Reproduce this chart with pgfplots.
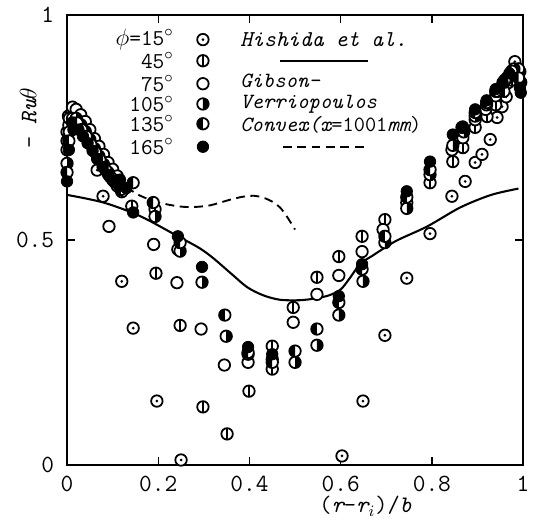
\documentclass[border=0pt]{standalone}
\usepackage{pgfplots}
\pgfplotsset{compat=1.18}

\pgfdeclareplotmark{mdot}{%
  \pgfpathcircle{\pgfpointorigin}{\pgfplotmarksize}\pgfusepathqfillstroke
  \begin{pgfscope}\pgfsetfillcolor{black}%
  \pgfpathcircle{\pgfpointorigin}{0.75pt}\pgfusepathqfill\end{pgfscope}}
\pgfdeclareplotmark{mvl}{%
  \pgfpathcircle{\pgfpointorigin}{\pgfplotmarksize}\pgfusepathqfillstroke
  \pgfpathmoveto{\pgfpoint{0pt}{-\pgfplotmarksize}}%
  \pgfpathlineto{\pgfpoint{0pt}{\pgfplotmarksize}}\pgfusepathqstroke}
\pgfdeclareplotmark{mop}{%
  \pgfpathcircle{\pgfpointorigin}{\pgfplotmarksize}\pgfusepathqfillstroke}
\pgfdeclareplotmark{mrh}{%
  \pgfpathcircle{\pgfpointorigin}{\pgfplotmarksize}\pgfusepathqfillstroke
  \begin{pgfscope}\pgfsetfillcolor{black}%
  \pgfpathmoveto{\pgfpoint{0pt}{-\pgfplotmarksize}}%
  \pgfpatharc{-90}{90}{\pgfplotmarksize}\pgfpathclose\pgfusepathqfill\end{pgfscope}}
\pgfdeclareplotmark{mlh}{%
  \pgfpathcircle{\pgfpointorigin}{\pgfplotmarksize}\pgfusepathqfillstroke
  \begin{pgfscope}\pgfsetfillcolor{black}%
  \pgfpathmoveto{\pgfpoint{0pt}{\pgfplotmarksize}}%
  \pgfpatharc{90}{270}{\pgfplotmarksize}\pgfpathclose\pgfusepathqfill\end{pgfscope}}

\pgfplotsset{mk/.style={only marks, mark size=2.9pt,
   mark options={line width=0.9pt, draw=black, fill=white}}}

\newcommand{\lfont}{\fontsize{12.5}{14}\selectfont\ttfamily}
\newcommand{\gfont}{\fontsize{11.5}{13}\selectfont\ttfamily}
\newcommand{\hfont}{\fontsize{11}{12}\selectfont\ttfamily}

\begin{document}
\begin{tikzpicture}
\begin{axis}[
  scale only axis, width=231pt, height=228pt,
  xmin=0, xmax=1, ymin=0, ymax=1,
  xtick={0,0.2,0.4,0.6,0.8,1}, xticklabels={0,0.2,0.4,0.6,0.8,1},
  ytick={0,0.5,1}, yticklabels={0,0.5,1},
  tick align=inside, major tick length=4pt,
  ticklabel style={font=\lfont},
  xticklabel style={yshift=-2pt},
  yticklabel style={xshift=-3pt},
  axis line style={line width=0.8pt},
  every tick/.style={black, line width=0.7pt},
  clip=false,
]
% Hishida et al. (solid)
\addplot[black, line width=1.05pt, smooth] coordinates {
 (0,0.600)(0.08,0.583)(0.16,0.553)(0.245,0.507)(0.29,0.482)(0.32,0.460)
 (0.36,0.425)(0.395,0.395)(0.43,0.377)(0.467,0.367)(0.51,0.366)(0.545,0.370)
 (0.575,0.377)(0.60,0.390)(0.62,0.415)(0.643,0.447)(0.67,0.465)(0.72,0.497)
 (0.79,0.530)(0.862,0.572)(0.93,0.600)(0.99,0.614)};
% Gibson-Verriopoulos (dashed)
\addplot[black, line width=0.95pt, dash pattern=on 4.5pt off 2.8pt, smooth] coordinates {
 (0.13,0.618)(0.153,0.602)(0.185,0.588)(0.219,0.579)(0.25,0.574)(0.276,0.573)
 (0.31,0.576)(0.336,0.583)(0.36,0.590)(0.386,0.596)(0.41,0.598)(0.43,0.594)
 (0.45,0.585)(0.467,0.572)(0.48,0.555)(0.489,0.541)(0.50,0.523)};

% phi = 15
\addplot[mk, mark=mdot] coordinates {
 (0,0.74)(0.003,0.775)(0.012,0.79)(0.024,0.765)(0.04,0.745)(0.052,0.72)
 (0.066,0.655)(0.079,0.597)(0.12,0.408)(0.145,0.304)(0.197,0.142)(0.25,0.011)
 (0.603,0.02)(0.649,0.142)(0.697,0.288)(0.745,0.415)(0.796,0.514)(0.844,0.597)
 (0.873,0.63)(0.895,0.672)(0.91,0.69)(0.928,0.723)(0.943,0.772)(0.954,0.796)
 (0.963,0.818)(0.967,0.849)(0.976,0.867)(0.982,0.896)(0.993,0.874)};
% phi = 45
\addplot[mk, mark=mvl] coordinates {
 (0,0.70)(0.004,0.755)(0.01,0.78)(0.02,0.78)(0.03,0.765)(0.04,0.75)(0.05,0.732)
 (0.06,0.713)(0.07,0.695)(0.08,0.678)(0.09,0.66)(0.10,0.645)(0.12,0.607)
 (0.142,0.575)(0.193,0.568)(0.195,0.426)(0.243,0.479)(0.248,0.31)(0.298,0.129)
 (0.351,0.069)(0.399,0.164)(0.45,0.264)(0.45,0.213)(0.496,0.35)(0.548,0.417)
 (0.596,0.463)(0.647,0.508)(0.697,0.545)(0.745,0.583)(0.796,0.627)(0.846,0.674)
 (0.868,0.705)(0.895,0.75)(0.921,0.774)(0.94,0.80)(0.958,0.83)(0.975,0.855)(0.99,0.87)};
% phi = 75
\addplot[mk, mark=mop] coordinates {
 (0,0.72)(0.005,0.77)(0.012,0.795)(0.02,0.79)(0.03,0.778)(0.04,0.763)(0.05,0.745)
 (0.06,0.725)(0.07,0.708)(0.08,0.69)(0.09,0.672)(0.10,0.657)(0.11,0.642)
 (0.092,0.53)(0.19,0.49)(0.241,0.405)(0.294,0.302)(0.345,0.222)(0.397,0.228)
 (0.496,0.317)(0.548,0.379)(0.596,0.421)(0.647,0.474)(0.693,0.523)
 (0.844,0.70)(0.868,0.727)(0.895,0.767)(0.918,0.79)(0.94,0.82)(0.958,0.85)
 (0.975,0.87)(0.99,0.88)};
% phi = 105
\addplot[mk, mark=mrh] coordinates {
 (0,0.67)(0.005,0.74)(0.012,0.77)(0.02,0.77)(0.03,0.756)(0.04,0.741)(0.05,0.723)
 (0.06,0.703)(0.07,0.686)(0.08,0.668)(0.09,0.65)(0.10,0.635)(0.11,0.62)
 (0.193,0.552)(0.248,0.475)(0.296,0.406)(0.349,0.286)(0.397,0.246)(0.45,0.235)
 (0.5,0.228)(0.548,0.266)(0.596,0.333)(0.649,0.408)(0.697,0.494)(0.745,0.57)
 (0.796,0.645)(0.846,0.71)(0.87,0.74)(0.895,0.775)(0.92,0.80)(0.945,0.83)
 (0.965,0.86)(0.98,0.88)(0.995,0.85)};
% phi = 135
\addplot[mk, mark=mlh] coordinates {
 (0,0.65)(0.004,0.72)(0.012,0.76)(0.022,0.76)(0.032,0.745)(0.042,0.73)(0.052,0.712)
 (0.062,0.695)(0.072,0.678)(0.085,0.655)(0.095,0.64)(0.105,0.628)(0.118,0.612)
 (0.145,0.627)(0.189,0.583)(0.248,0.494)(0.346,0.333)(0.397,0.25)(0.45,0.228)
 (0.5,0.253)(0.548,0.302)(0.596,0.361)(0.647,0.435)(0.697,0.508)(0.745,0.595)
 (0.796,0.656)(0.866,0.75)(0.895,0.783)(0.92,0.805)(0.94,0.83)(0.96,0.855)
 (0.975,0.875)(0.99,0.86)};
% phi = 165
\addplot[mk, mark=*, mark options={fill=black}] coordinates {
 (0,0.63)(0.004,0.70)(0.014,0.745)(0.025,0.745)(0.035,0.73)(0.045,0.715)
 (0.056,0.698)(0.066,0.68)(0.078,0.662)(0.09,0.645)(0.10,0.632)(0.116,0.634)
 (0.13,0.615)(0.145,0.561)(0.243,0.508)(0.296,0.44)(0.397,0.262)(0.45,0.246)
 (0.596,0.375)(0.647,0.446)(0.745,0.608)(0.796,0.674)(0.846,0.734)(0.868,0.752)
 (0.895,0.79)(0.92,0.81)(0.94,0.835)(0.955,0.85)(0.97,0.87)(0.993,0.838)(0.995,0.827)};

% legend symbols
\addplot[mk, mark=mdot] coordinates {(0.298,0.945)};
\addplot[mk, mark=mvl] coordinates {(0.298,0.898)};
\addplot[mk, mark=mop] coordinates {(0.298,0.847)};
\addplot[mk, mark=mrh] coordinates {(0.298,0.802)};
\addplot[mk, mark=mlh] coordinates {(0.298,0.758)};
\addplot[mk, mark=*, mark options={fill=black}] coordinates {(0.298,0.707)};
\addplot[black, line width=1.05pt] coordinates {(0.467,0.898)(0.66,0.898)};
\addplot[black, line width=0.95pt, dash pattern=on 4.5pt off 2.8pt] coordinates {(0.473,0.707)(0.66,0.707)};

\node[anchor=east, font=\gfont, inner sep=0pt] at (axis cs:0.235,0.945) {$\phi$=15$^\circ$};
\node[anchor=east, font=\gfont, inner sep=0pt] at (axis cs:0.235,0.898) {45$^\circ$};
\node[anchor=east, font=\gfont, inner sep=0pt] at (axis cs:0.235,0.847) {75$^\circ$};
\node[anchor=east, font=\gfont, inner sep=0pt] at (axis cs:0.235,0.802) {105$^\circ$};
\node[anchor=east, font=\gfont, inner sep=0pt] at (axis cs:0.235,0.758) {135$^\circ$};
\node[anchor=east, font=\gfont, inner sep=0pt] at (axis cs:0.235,0.707) {165$^\circ$};

\node[anchor=west, font=\gfont\itshape, inner sep=0pt] at (axis cs:0.379,0.945) {Hishida et al.};
\node[anchor=west, font=\hfont\itshape, inner sep=0pt] at (axis cs:0.379,0.853) {Gibson-};
\node[anchor=west, font=\hfont\itshape, inner sep=0pt] at (axis cs:0.379,0.801) {Verriopoulos};
\node[anchor=west, font=\hfont, inner sep=0pt] at (axis cs:0.379,0.756) {{\itshape Convex(x}=1001{\itshape mm})};

\node[rotate=90, font=\fontsize{12}{14}\selectfont\ttfamily, inner sep=0pt] at (axis cs:-0.085,0.77) {- {\itshape Ru}$\theta$};
\node[font=\fontsize{12}{14}\selectfont\ttfamily, inner sep=0pt] at (axis cs:0.655,-0.092) {({\itshape r}-{\itshape r}$_i$)/{\itshape b}};

\coordinate (bbll) at (axis cs:-0.147,-0.129);
\coordinate (bbur) at (axis cs:1.024,1.033);
\end{axis}
\pgfresetboundingbox
\path[use as bounding box] (bbll) rectangle (bbur);
\end{tikzpicture}
\end{document}
